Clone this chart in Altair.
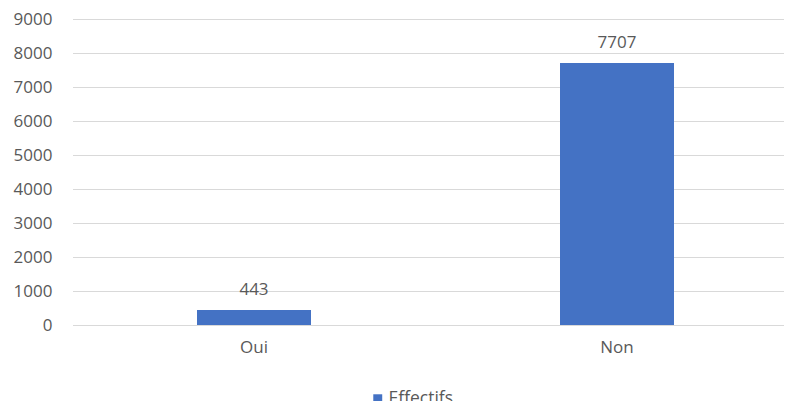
import altair as alt
import pandas as pd

categories = ["Oui", "Non"]
values = [443, 7707]
series = ["Effectifs", "Effectifs"]

df = pd.DataFrame({"cat": categories, "val": values, "serie": series})

FONT = "Open Sans"
GRAY = "#595959"
BLUE = "#4472C4"

x = alt.X("cat:N", sort=categories, title=None,
          scale=alt.Scale(range=[0.5, 726.5], paddingInner=0, paddingOuter=0),
          axis=alt.Axis(labelAngle=0, ticks=False, tickSize=0, domain=False,
                        labelPadding=14, labelFontSize=17, labelColor=GRAY,
                        labelFont=FONT, grid=False))
y = alt.Y("val:Q", title=None,
          scale=alt.Scale(domain=[0, 9000], nice=False),
          axis=alt.Axis(values=[0, 1000, 2000, 3000, 4000, 5000, 6000, 7000, 8000, 9000],
                        format="d", labelOverlap=False, ticks=False, tickSize=0,
                        domain=False, labelPadding=20, labelFontSize=17,
                        labelColor=GRAY, labelFont=FONT, grid=True,
                        gridColor="#d9d9d9", gridWidth=1))

base = alt.Chart(df).encode(x=x, y=y)

bars = base.mark_bar(size=114).encode(
    color=alt.Color("serie:N", scale=alt.Scale(range=[BLUE]), title=None,
                    legend=alt.Legend(orient="none", legendX=297, legendY=371,
                                      symbolType="square", symbolSize=80,
                                      labelOffset=2,
                                      labelFontSize=17.5, labelColor=GRAY,
                                      labelFont=FONT, symbolStrokeWidth=0))
)

labels = base.mark_text(baseline="alphabetic", dy=-15, fontSize=17,
                        color=GRAY, font=FONT).encode(text="val:Q")

chart = (bars + labels).properties(
    width=712, height=306,
    autosize=alt.AutoSizeParams(type="none"),
    padding={"left": 64, "top": 11, "right": 0, "bottom": 76}
).configure_view(stroke=None).configure_axis(labelOverlap=False)

chart.save("out.html", embed_options={"renderer": "svg", "actions": False})
